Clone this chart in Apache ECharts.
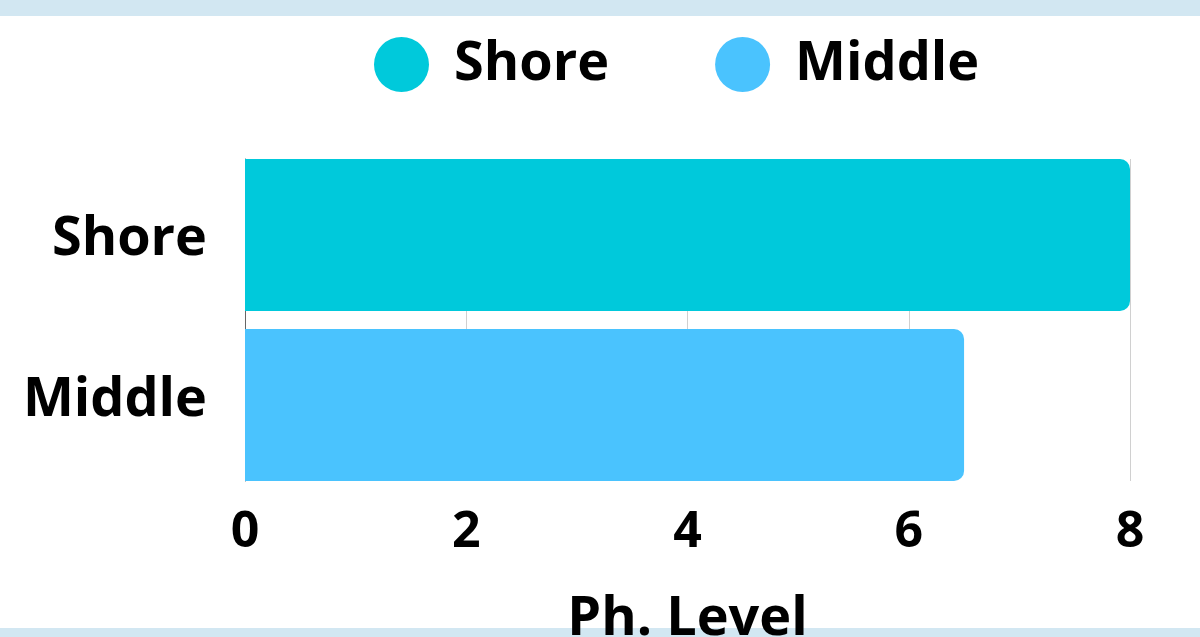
<!DOCTYPE html>
<html>
<head>
<meta charset="utf-8">
<script src="https://cdn.jsdelivr.net/npm/echarts@6/dist/echarts.min.js"></script>
<style>
html,body{margin:0;padding:0;background:#fff;}
#chart{width:1200px;height:637px;}
</style>
</head>
<body>
<div id="chart"></div>
<script>
const categories = ['Shore', 'Middle'];
const seriesNames = ['Shore', 'Middle'];
const shoreValues = [8, '-'];
const middleValues = ['-', 6.5];
const xTicks = [0, 2, 4, 6, 8];
const colors = ['#00c9db', '#4ac3fe'];

const FONT = '"Open Sans", sans-serif';
const chart = echarts.init(document.getElementById('chart'));
chart.setOption({
  animation: false,
  backgroundColor: 'transparent',
  graphic: [
    { type: 'rect', z: -10, shape: { x: 0, y: 0, width: 1200, height: 16 }, style: { fill: '#d2e7f2' } },
    { type: 'rect', z: -10, shape: { x: 0, y: 628, width: 1200, height: 9 }, style: { fill: '#d2e7f2' } }
  ],
  legend: {
    top: 32,
    left: 369,
    itemWidth: 55,
    itemHeight: 55,
    itemGap: 106,
    icon: 'circle',
    data: seriesNames,
    textStyle: { fontFamily: FONT, fontWeight: 'bold', fontSize: 54, color: '#000', padding: [4, 0, 0, 20] }
  },
  grid: { left: 245, right: 70, top: 159, bottom: 156, containLabel: false, outerBoundsMode: 'none' },
  xAxis: {
    type: 'value',
    min: xTicks[0],
    max: xTicks[xTicks.length - 1],
    interval: 2,
    axisLine: { show: false },
    axisTick: { show: false },
    splitLine: { show: true, lineStyle: { color: '#d0d0d0', width: 1 } },
    axisLabel: { fontFamily: FONT, fontWeight: 'bold', fontSize: 50, color: '#000', margin: 27 },
    name: 'Ph. Level',
    nameLocation: 'middle',
    nameGap: 112,
    nameTextStyle: { fontFamily: FONT, fontWeight: 'bold', fontSize: 54, color: '#000' }
  },
  yAxis: {
    type: 'category',
    data: categories,
    inverse: true,
    axisLine: { show: true, lineStyle: { color: '#666', width: 1 } },
    axisTick: { show: false },
    splitLine: { show: false },
    axisLabel: { fontFamily: FONT, fontWeight: 'bold', fontSize: 54, color: '#000', margin: 38 }
  },
  series: [
    { name: seriesNames[0], type: 'bar', data: shoreValues, barCategoryGap: '0%', barGap: '-94.1%', itemStyle: { color: colors[0], borderRadius: [0, 10, 10, 0] } },
    { name: seriesNames[1], type: 'bar', data: middleValues, barCategoryGap: '0%', barGap: '-94.1%', itemStyle: { color: colors[1], borderRadius: [0, 10, 10, 0] } }
  ]
});
</script>
</body>
</html>
